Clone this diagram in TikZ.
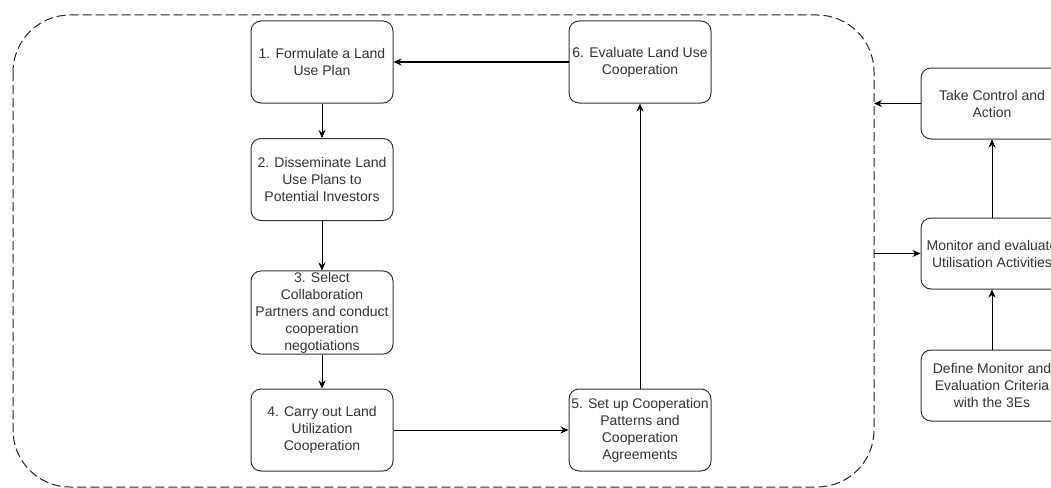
\documentclass[tikz,border=0pt]{standalone}
\usepackage{fontspec}
\setmainfont{Liberation Sans}
\usetikzlibrary{arrows.meta}
\begin{document}
\begin{tikzpicture}[x=1pt,y=-1pt,
  box/.style={draw=black!80,line width=1pt,rounded corners=10pt,minimum width=142pt,minimum height=82pt,align=center,inner sep=1pt,text=black!80,font=\fontsize{14}{17}\selectfont},
  conn/.style={line width=1pt,-{Stealth[length=8pt,width=7pt]}},
  frame/.style={draw=black!85,line width=1pt,dash pattern=on 9pt off 4pt,rounded corners=57pt}]
\useasboundingbox (0,0) rectangle (1051,487);
\clip (0,0) rectangle (1051,487);
\fill[white] (0,0) rectangle (1051,487);
\draw[frame] (13,15) rectangle (874,487);
\node[box] (b1) at (322,62) {1. Formulate a Land\\Use Plan};
\node[box] (b2) at (322,179.5) {2. Disseminate Land\\Use Plans to\\Potential Investors};
\node[box] (b3) at (322,312.5) {3. Select\\Collaboration\\Partners and conduct\\cooperation\\negotiations};
\node[box] (b4) at (322,430) {4. Carry out Land\\Utilization\\Cooperation};
\node[box] (b5) at (640,430) {5. Set up Cooperation\\Patterns and\\Cooperation\\Agreements};
\node[box] (b6) at (640,62) {6. Evaluate Land Use\\Cooperation};
\node[box,minimum height=71pt] (tc) at (992,103.5) {Take Control and\\Action};
\node[box,minimum height=71pt] (me) at (992,253.5) {Monitor and evaluate\\Utilisation Activities};
\node[box,minimum height=71pt] (dm) at (992,385.5) {Define Monitor and\\Evaluation Criteria\\with the 3Es};
\coordinate (fa) at (874,103.5);
\coordinate (fb) at (874,253.5);
\draw[conn] (b6) -- (b1);
\draw[conn] (b1) -- (b2);
\draw[conn] (b2) -- (b3);
\draw[conn] (b3) -- (b4);
\draw[conn] (b4) -- (b5);
\draw[conn] (b5) -- (b6);
\draw[conn] (tc) -- (fa);
\draw[conn] (fb) -- (me);
\draw[conn] (me) -- (tc);
\draw[conn] (dm) -- (me);
\end{tikzpicture}
\end{document}
